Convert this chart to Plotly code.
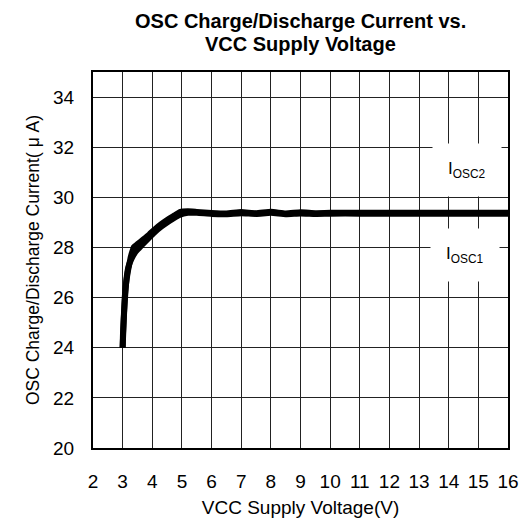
import plotly.graph_objects as go

# Data
vcc_osc1 = [3.0, 3.01, 3.03, 3.05, 3.07, 3.11, 3.17, 3.22, 3.27, 3.33, 3.38, 3.5, 3.7, 3.9, 4.1, 4.3,
            4.5, 4.75, 4.95, 5.2, 5.5, 6.0, 6.5, 7.0, 7.5, 8.0, 8.5, 9.0, 9.5, 10.0, 11.0, 12.0, 13.0, 14.0, 15.0, 16.0]
iosc1 = [24.0, 24.5, 25.0, 25.5, 26.0, 26.5, 27.0, 27.3, 27.6, 27.85, 28.02, 28.13, 28.32, 28.52, 28.74, 28.93,
         29.1, 29.28, 29.42, 29.44, 29.42, 29.38, 29.36, 29.41, 29.37, 29.42, 29.36, 29.4, 29.37, 29.38, 29.38, 29.38, 29.38, 29.38, 29.38, 29.38]

vcc_osc2 = [3.0, 3.02, 3.04, 3.07, 3.1, 3.14, 3.2, 3.3, 3.42, 3.55, 3.75, 4.05, 4.3,
            4.5, 4.7, 4.92, 5.2, 5.5, 6.0, 6.5, 7.0, 7.5, 8.0, 8.5, 9.0, 9.5, 10.0, 11.0, 12.0, 13.0, 14.0, 15.0, 16.0]
iosc2 = [24.0, 24.6, 25.2, 25.8, 26.35, 26.85, 27.25, 27.55, 27.8, 27.97, 28.22, 28.58, 28.83,
         29.0, 29.15, 29.3, 29.38, 29.38, 29.34, 29.33, 29.37, 29.34, 29.38, 29.33, 29.36, 29.34, 29.35, 29.35, 29.35, 29.35, 29.35, 29.35, 29.35]

x_ticks = list(range(2, 17))
y_ticks = list(range(20, 35, 2))

title_lines = ["OSC Charge/Discharge Current vs.", "VCC Supply Voltage"]

FONT = "Liberation Sans, Arial, sans-serif"

fig = go.Figure()
fig.add_trace(go.Scatter(x=vcc_osc1, y=iosc1, mode="lines", name="IOSC1",
                         line=dict(color="black", width=6, shape="spline", smoothing=0.4)))
fig.add_trace(go.Scatter(x=vcc_osc2, y=iosc2, mode="lines", name="IOSC2",
                         line=dict(color="black", width=6, shape="spline", smoothing=0.4)))

fig.add_annotation(x=14.6, y=31.1, text="I<sub>OSC2</sub>", showarrow=False,
                   font=dict(family=FONT, size=17, color="black"),
                   bgcolor="white", borderpad=15)
fig.add_annotation(x=14.55, y=27.7, text="I<sub>OSC1</sub>", showarrow=False,
                   font=dict(family=FONT, size=17, color="black"),
                   bgcolor="white", borderpad=15)

# Title as two paper annotations (bold)
for line, shift in zip(title_lines, [51, 28]):
    fig.add_annotation(xref="paper", yref="paper", x=0.5, y=1, yanchor="middle", yshift=shift,
                       text="<b>" + line + "</b>", showarrow=False,
                       font=dict(family=FONT, size=20, color="black"))

fig.update_layout(
    width=520, height=512,
    margin=dict(l=85, r=20, t=64, b=72, autoexpand=False),
    paper_bgcolor="white", plot_bgcolor="white",
    showlegend=False,
    font=dict(family=FONT, color="black"),
)
fig.update_xaxes(range=[2, 16], tickvals=x_ticks, ticktext=[str(v) for v in x_ticks],
                 showgrid=True, gridcolor="#222", gridwidth=1, automargin=False,
                 showline=True, linecolor="black", linewidth=2, mirror=True,
                 ticks="", ticklabelstandoff=15, tickfont=dict(size=19),
                 title=dict(text="VCC Supply Voltage(V)", font=dict(size=19), standoff=10),
                 zeroline=False)
fig.update_yaxes(range=[20, 35], tickvals=y_ticks, ticktext=[str(v) for v in y_ticks],
                 showgrid=True, gridcolor="#222", gridwidth=1, automargin=False,
                 showline=True, linecolor="black", linewidth=2, mirror=True,
                 ticks="", ticklabelstandoff=13, tickfont=dict(size=19),
                 title=dict(text="OSC Charge/Discharge Current( μ A)", font=dict(size=17.5), standoff=9),
                 zeroline=False)

fig.write_html("out.html")
